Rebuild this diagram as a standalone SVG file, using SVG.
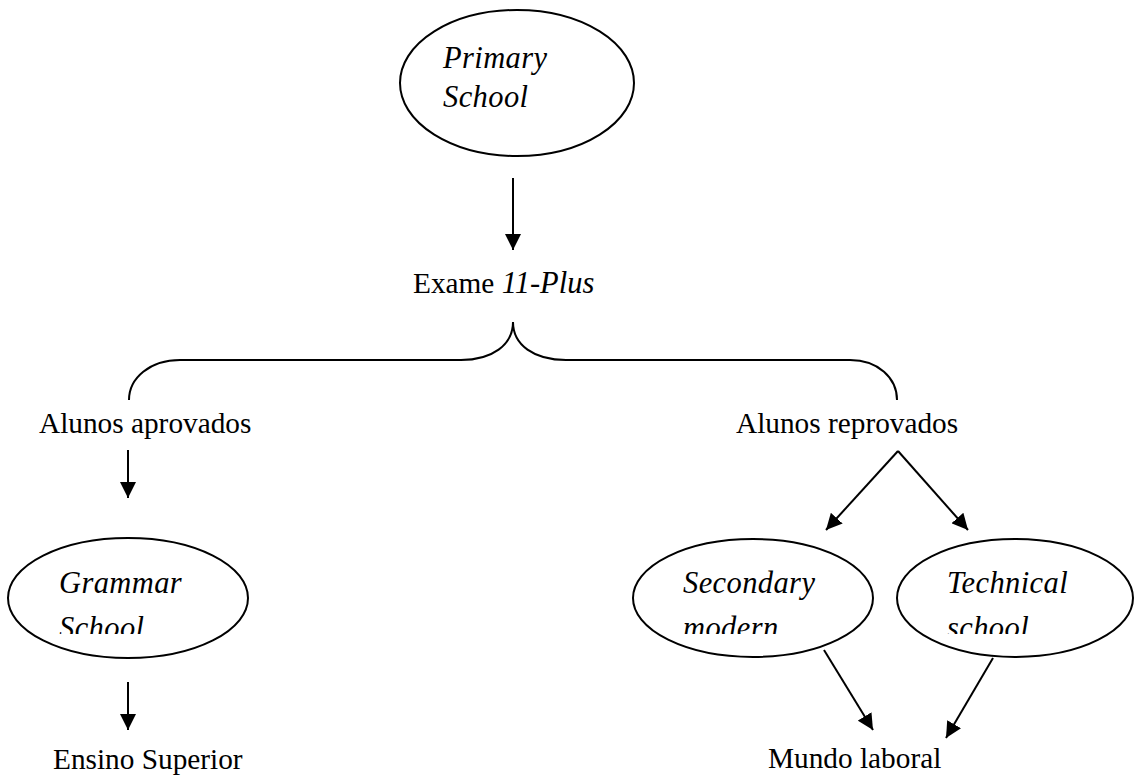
<svg xmlns="http://www.w3.org/2000/svg" width="1135" height="776" viewBox="0 0 1135 776">
<style>
text{font-family:"Liberation Serif","Times New Roman",serif;font-size:29.3px;fill:#000}
.it{font-style:italic;font-size:30.5px;letter-spacing:0.4px}
.node{fill:#fff;stroke:#000;stroke-width:2}
.con{fill:none;stroke:#000;stroke-width:2}
</style>
<defs>
<marker id="ah" viewBox="0 0 16 16" refX="16" refY="8" markerWidth="16" markerHeight="16" markerUnits="userSpaceOnUse" orient="auto">
<path d="M0,0 L16,8 L0,16 z" fill="#000"/>
</marker>
<clipPath id="cg"><rect x="0" y="500" width="300" height="134"/></clipPath>
<clipPath id="cs"><rect x="620" y="500" width="260" height="134"/></clipPath>
<clipPath id="ct"><rect x="890" y="500" width="245" height="134"/></clipPath>
</defs>
<rect width="1135" height="776" fill="#fff"/>
<g id="connectors">
<line class="con" x1="513" y1="178" x2="513" y2="250" marker-end="url(#ah)"/>
<path class="con" d="M129,400 C129,378 150,360 180,360 L461,360 C492,360 513,345 513,322 C513,345 534,360 566,360 L850,360 C878,360 897,378 897,400"/>
<line class="con" x1="128" y1="450" x2="128" y2="498" marker-end="url(#ah)"/>
<line class="con" x1="898" y1="451" x2="826" y2="530" marker-end="url(#ah)"/>
<line class="con" x1="898" y1="451" x2="968" y2="530" marker-end="url(#ah)"/>
<line class="con" x1="128" y1="682" x2="128" y2="730" marker-end="url(#ah)"/>
<line class="con" x1="824" y1="650" x2="873" y2="730" marker-end="url(#ah)"/>
<line class="con" x1="993" y1="658" x2="946" y2="738" marker-end="url(#ah)"/>
</g>
<g id="primary">
<ellipse class="node" cx="517" cy="83" rx="117" ry="73"/>
<text class="it" x="443" y="68">Primary</text>
<text class="it" x="443" y="107">School</text>
</g>
<g id="exame">
<text x="413" y="293">Exame <tspan class="it" style="letter-spacing:0">11-Plus</tspan></text>
</g>
<g id="aprovados">
<text x="39" y="433">Alunos aprovados</text>
</g>
<g id="reprovados">
<text x="736" y="433">Alunos reprovados</text>
</g>
<g id="grammar">
<ellipse class="node" cx="128" cy="598" rx="120" ry="60"/>
<text class="it" x="59" y="593">Grammar</text>
<text class="it" x="59" y="638" clip-path="url(#cg)">School</text>
</g>
<g id="secondary">
<ellipse class="node" cx="753" cy="598" rx="120" ry="59"/>
<text class="it" x="683" y="593">Secondary</text>
<text class="it" x="683" y="638" clip-path="url(#cs)">modern</text>
</g>
<g id="technical">
<ellipse class="node" cx="1015" cy="598" rx="118" ry="59"/>
<text class="it" x="947" y="593">Technical</text>
<text class="it" x="947" y="638" clip-path="url(#ct)">school</text>
</g>
<g id="ensino">
<text x="53" y="769">Ensino Superior</text>
</g>
<g id="mundo">
<text x="768" y="768">Mundo laboral</text>
</g>
</svg>
